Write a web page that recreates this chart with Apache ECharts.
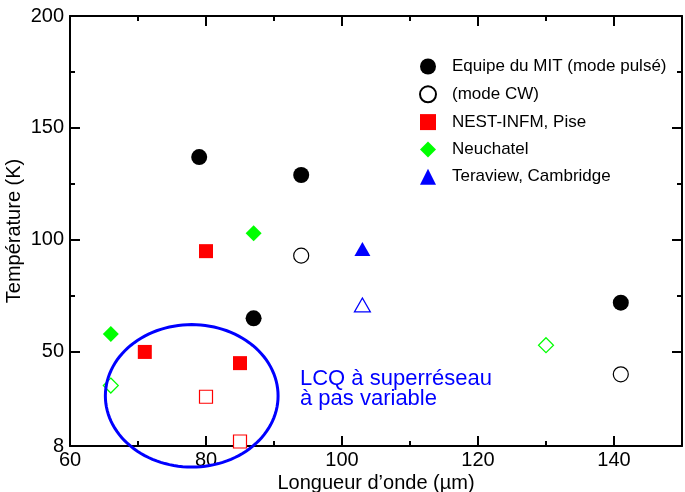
<!DOCTYPE html>
<html>
<head>
<meta charset="utf-8">
<script src="https://cdn.jsdelivr.net/npm/echarts@6/dist/echarts.min.js"></script>
<style>
  html, body { margin: 0; padding: 0; background: #fff; }
  #chart { width: 685px; height: 492px; }
</style>
</head>
<body>
<div id="chart"></div>
<script>
// tick values
const xMajorTicks = [60, 80, 100, 120, 140];
const xMinorTicks = [70, 90, 110, 130];
const yMajorTicks = [8, 50, 100, 150, 200];
const yMinorTicks = [75, 125, 175];

// [longueur d'onde (um), temperature (K)]
const mitPulse = [[79, 137], [94, 129], [87, 65], [141, 72]];
const mitCW = [[94, 93], [141, 40]];
const nestPulse = [[80, 95], [71, 50], [85, 45]];
const nestCW = [[80, 30], [85, 10]];
const neuchatelPulse = [[66, 58], [87, 103]];
const neuchatelCW = [[66, 35], [130, 53]];
const teraviewPulse = [[103, 96]];
const teraviewCW = [[103, 71]];

const legendNames = ['Equipe du MIT (mode pulsé)', '(mode CW)', 'NEST-INFM, Pise', 'Neuchatel', 'Teraview, Cambridge'];

// ellipse around the variable-period superlattice QCLs: [cx, cy, rx, ry] in data units
const lcqEllipse = [77.9, 30.4, 12.7, 31.8];

const FONT = 'Liberation Sans, Arial, Helvetica, sans-serif';
const BLACK = '#000', RED = '#ff0000', GREEN = '#00ff00', BLUE = '#0000ff';

const chart = echarts.init(document.getElementById('chart'));

// one axis of the box; ticks inward
function boxAxis(position, min, max, ticks, len, withLine, withLabels) {
  return {
    type: 'value',
    position: position,
    min: min,
    max: max,
    axisLine: { show: withLine, onZero: false, lineStyle: { color: BLACK, width: 2 } },
    axisTick: { show: true, inside: true, length: len, customValues: ticks, lineStyle: { color: BLACK, width: 2 } },
    axisLabel: withLabels
      ? { show: true, customValues: ticks, color: BLACK, fontSize: 20, fontFamily: FONT, margin: position === 'bottom' ? 4 : 6 }
      : { show: false },
    splitLine: { show: false }
  };
}

function scatter(name, data, symbol, size, color, open) {
  return {
    name: name,
    type: 'scatter',
    data: data,
    symbol: symbol,
    symbolSize: size,
    itemStyle: open
      ? { color: '#fff', borderColor: color, borderWidth: 1.2, opacity: 1 }
      : { color: color, opacity: 1 },
    emphasis: { disabled: true },
    z: 3
  };
}

const xBottom = boxAxis('bottom', 60, 150, xMajorTicks, 10, true, true);
xBottom.name = 'Longueur d’onde (µm)';
xBottom.nameLocation = 'middle';
xBottom.nameGap = 27;
xBottom.nameMoveOverlap = false;
xBottom.nameTextStyle = { color: BLACK, fontSize: 20, fontFamily: FONT };

const yLeft = boxAxis('left', 8, 200, yMajorTicks, 10, true, true);
yLeft.name = 'Température (K)';
yLeft.nameLocation = 'middle';
yLeft.nameGap = 46;
yLeft.nameMoveOverlap = false;
yLeft.nameTextStyle = { color: BLACK, fontSize: 20, fontFamily: FONT };

const options = {
  animation: false,
  backgroundColor: '#fff',
  grid: { left: 70, right: 3, top: 16, bottom: 46, containLabel: false, outerBoundsMode: 'none' },
  xAxis: [
    xBottom,
    boxAxis('bottom', 60, 150, xMinorTicks, 5, false, false),
    boxAxis('top', 60, 150, xMajorTicks, 10, true, false),
    boxAxis('top', 60, 150, xMinorTicks, 5, false, false)
  ],
  yAxis: [
    yLeft,
    boxAxis('left', 8, 200, yMinorTicks, 5, false, false),
    boxAxis('right', 8, 200, yMajorTicks, 10, true, false),
    boxAxis('right', 8, 200, yMinorTicks, 5, false, false)
  ],
  legend: {
    data: legendNames,
    orient: 'vertical',
    left: 414,
    top: 53,
    itemWidth: 16,
    itemHeight: 16,
    itemGap: 10.3,
    selectedMode: false,
    textStyle: { color: BLACK, fontSize: 17, fontFamily: FONT, lineHeight: 16, padding: [0, 0, 0, 11] }
  },
  graphic: [
    {
      type: 'text',
      left: 300,
      top: 368,
      style: {
        text: 'LCQ à superréseau\nà pas variable',
        fill: BLUE,
        fontSize: 22,
        fontFamily: FONT,
        lineHeight: 19.5
      }
    }
  ],
  series: [
    scatter(legendNames[0], mitPulse, 'circle', 16, BLACK, false),
    scatter(legendNames[1], mitCW, 'circle', 15, BLACK, true),
    scatter(legendNames[2], nestPulse, 'rect', 14, RED, false),
    scatter('NEST-INFM, Pise (CW)', nestCW, 'rect', 13, RED, true),
    scatter(legendNames[3], neuchatelPulse, 'diamond', 16, GREEN, false),
    scatter('Neuchatel (CW)', neuchatelCW, 'diamond', 15, GREEN, true),
    scatter(legendNames[4], teraviewPulse, 'triangle', [16, 14], BLUE, false),
    scatter('Teraview, Cambridge (CW)', teraviewCW, 'triangle', [16, 14], BLUE, true),
    {
      name: 'ellipse',
      type: 'custom',
      data: [lcqEllipse],
      clip: false,
      silent: true,
      z: 4,
      renderItem: function (params, api) {
        const cx = api.value(0), cy = api.value(1), rx = api.value(2), ry = api.value(3);
        const pts = [];
        for (let i = 0; i < 120; i++) {
          const t = (i / 120) * Math.PI * 2;
          pts.push(api.coord([cx + rx * Math.cos(t), cy + ry * Math.sin(t)]));
        }
        return {
          type: 'polygon',
          shape: { points: pts },
          style: { fill: 'none', stroke: BLUE, lineWidth: 3 }
        };
      }
    }
  ]
};

options && chart.setOption(options);
</script>
</body>
</html>
